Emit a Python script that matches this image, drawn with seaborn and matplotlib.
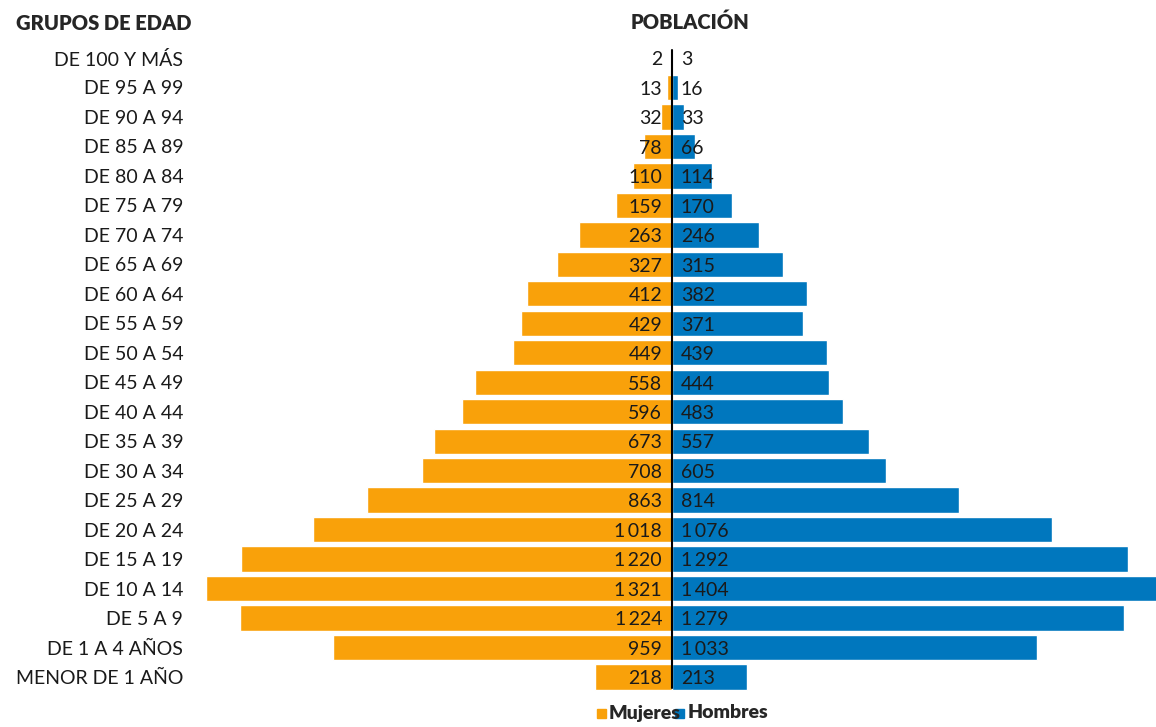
import numpy as np
import pandas as pd
import matplotlib
matplotlib.use('Agg')
import matplotlib.pyplot as plt
import seaborn as sns

# datos
grupos = ['DE 100 Y MÁS', 'DE 95 A 99', 'DE 90 A 94', 'DE 85 A 89', 'DE 80 A 84',
          'DE 75 A 79', 'DE 70 A 74', 'DE 65 A 69', 'DE 60 A 64', 'DE 55 A 59',
          'DE 50 A 54', 'DE 45 A 49', 'DE 40 A 44', 'DE 35 A 39', 'DE 30 A 34',
          'DE 25 A 29', 'DE 20 A 24', 'DE 15 A 19', 'DE 10 A 14', 'DE 5 A 9',
          'DE 1 A 4 AÑOS', 'MENOR DE 1 AÑO']
mujeres = [2, 13, 32, 78, 110, 159, 263, 327, 412, 429, 449, 558, 596, 673, 708,
           863, 1018, 1220, 1321, 1224, 959, 218]
hombres = [3, 16, 33, 66, 114, 170, 246, 315, 382, 371, 439, 444, 483, 557, 605,
           814, 1076, 1292, 1404, 1279, 1033, 213]

naranja = '#F9A10A'
azul = '#0077BE'
texto = '#1a1a1a'

sns.set_style('white')
plt.rcParams['font.family'] = ['Lato', 'DejaVu Sans']

df = pd.DataFrame({'grupo': grupos, 'Mujeres': mujeres, 'Hombres': hombres})
df['neg'] = -df['Mujeres']

fig = plt.figure(figsize=(11.56, 7.27), dpi=100)
ax = fig.add_axes([200 / 1156, 32 / 727, 956 / 1156, 655 / 727])

sns.barplot(data=df, y='grupo', x='neg', color=naranja, orient='h',
            width=0.86, saturation=1, ax=ax)
sns.barplot(data=df, y='grupo', x='Hombres', color=azul, orient='h',
            width=0.86, saturation=1, ax=ax)

ax.set_xlim(-1337, 1371)
ax.set_ylim(21.61, -0.611)
ax.axvline(0, ymin=0.01, ymax=0.985, color='black', lw=1.5)

def fmt(v):
    return f'{v:,}'.replace(',', '\u2009')

for i, (m, h) in enumerate(zip(mujeres, hombres)):
    ax.text(-28, i + 0.06, fmt(m), ha='right', va='center', fontsize=14,
            color=texto)
    ax.text(25, i + 0.06, fmt(h), ha='left', va='center', fontsize=14,
            color=texto)

ax.set_yticks(range(len(grupos)))
ax.set_yticklabels(grupos, fontsize=14, color=texto)
ax.tick_params(axis='y', length=0, pad=12)
ax.set_xticks([])
ax.set_xlabel('')
ax.set_ylabel('')
sns.despine(ax=ax, left=True, bottom=True)

fig.text(16 / 1156, 1 - 23 / 727, 'GRUPOS DE EDAD', ha='left', va='center',
         fontsize=14.5, fontweight='heavy')
fig.text(690 / 1156, 1 - 22 / 727, 'POBLACIÓN', ha='center', va='center',
         fontsize=14.5, fontweight='heavy')

# leyenda
fig.patches.append(plt.Rectangle((597 / 1156, 1 - 718 / 727), 9 / 1156, 9 / 727,
                                 transform=fig.transFigure, color=naranja))
fig.text(609 / 1156, 1 - 713 / 727, 'Mujeres', ha='left', va='center',
         fontsize=14, fontweight='heavy')
fig.patches.append(plt.Rectangle((675 / 1156, 1 - 718 / 727), 9 / 1156, 9 / 727,
                                 transform=fig.transFigure, color=azul))
fig.text(688 / 1156, 1 - 713 / 727, 'Hombres', ha='left', va='center',
         fontsize=14, fontweight='heavy')

fig.savefig('out.png', dpi=100)
